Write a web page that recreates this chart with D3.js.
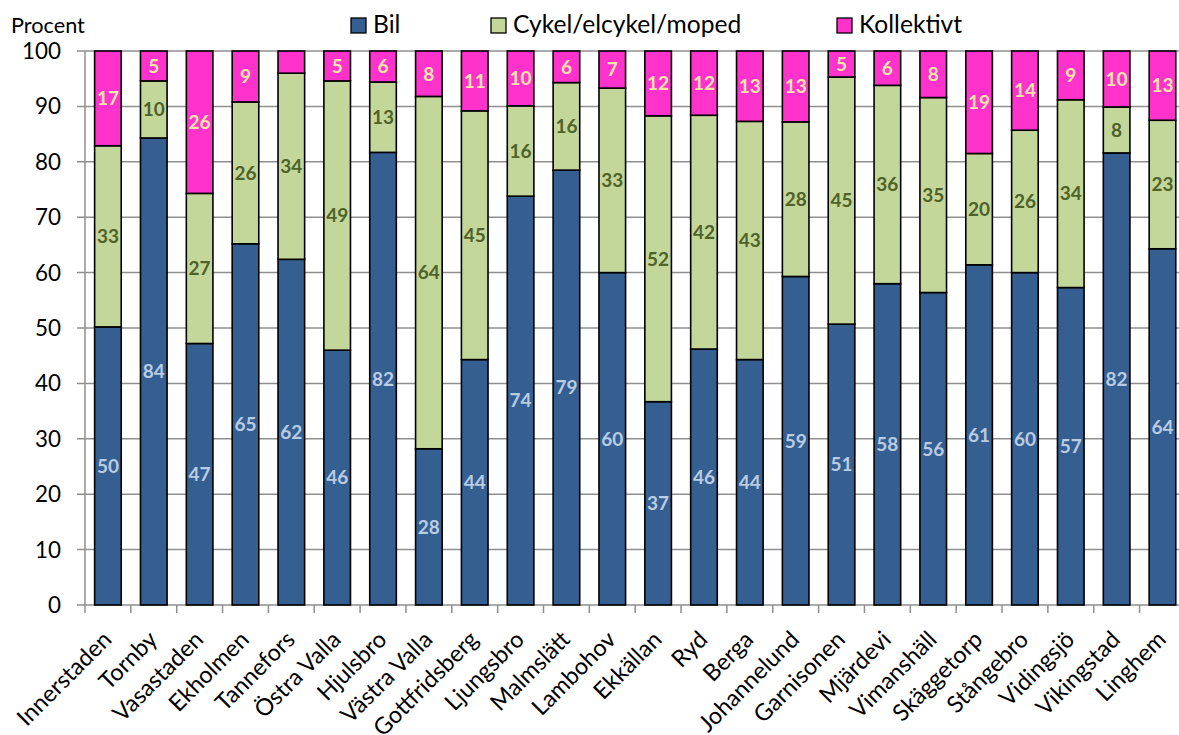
<!DOCTYPE html>
<html><head><meta charset="utf-8">
<script src="https://cdn.jsdelivr.net/npm/d3@7"></script>
<style>html,body{margin:0;padding:0;background:#fff;}svg{display:block;font-family:Lato,"Open Sans",sans-serif;}</style>
</head><body>
<svg id="c" width="1179" height="735"></svg>
<script>
const categories = ["Innerstaden","Tornby","Vasastaden","Ekholmen","Tannefors","Östra Valla","Hjulsbro","Västra Valla","Gottfridsberg","Ljungsbro","Malmslätt","Lambohov","Ekkällan","Ryd","Berga","Johannelund","Garnisonen","Mjärdevi","Vimanshäll","Skäggetorp","Stångebro","Vidingsjö","Vikingstad","Linghem"];
const bil =        [50.2,84.3,47.2,65.2,62.4,46.0,81.7,28.2,44.3,73.8,78.5,60.0,36.7,46.2,44.3,59.3,50.7,58.0,56.4,61.4,60.0,57.3,81.6,64.3];
const cykel =      [32.7,10.3,27.1,25.6,33.6,48.6,12.7,63.6,44.9,16.3,15.8,33.3,51.6,42.2,43.0,27.9,44.6,35.8,35.2,20.1,25.7,33.9, 8.3,23.2];
const kollektivt = [17.1, 5.4,25.7, 9.2, 4.0, 5.4, 5.6, 8.2,10.8, 9.9, 5.7, 6.7,11.7,11.6,12.7,12.8, 4.7, 6.2, 8.4,18.5,14.3, 8.8,10.1,12.5];
const seriesNames = ["Bil","Cykel/elcykel/moped","Kollektivt"];
const yTicks = [0,10,20,30,40,50,60,70,80,90,100];

const fills = ["#365F91","#C4D79B","#FF33CC"];
const labelColors = ["#B8CCE4","#4F6228","#FCE4A8"];

const svg = d3.select("#c");
const x0 = 85, yTop = 51, yBot = 605;
const step = 45.85;
const x = d3.scaleBand().domain(categories).range([x0, x0 + step*categories.length]).paddingInner(0.42).paddingOuter(0.21);
const y = d3.scaleLinear().domain([0,100]).range([yBot, yTop]);

// gridlines
svg.append("g").selectAll("line").data(yTicks).join("line")
  .attr("x1", x0-8).attr("x2", 1185)
  .attr("y1", d=>y(d)).attr("y2", d=>y(d))
  .attr("stroke", "#8f8f8f").attr("stroke-width", 1.5);

// y axis line
svg.append("line").attr("x1",x0).attr("x2",x0).attr("y1",yTop).attr("y2",yBot)
  .attr("stroke","#8f8f8f").attr("stroke-width",1.5);

// y tick labels
svg.append("g").selectAll("text").data(yTicks).join("text")
  .attr("x", 61).attr("y", d=>y(d)).attr("dy","0.36em")
  .attr("text-anchor","end").attr("font-size",22.4).attr("fill","#000")
  .text(d=>d);

// x ticks
svg.append("g").selectAll("line").data(d3.range(categories.length+1)).join("line")
  .attr("x1", i=>x0+i*step).attr("x2", i=>x0+i*step)
  .attr("y1", yBot).attr("y2", yBot+8)
  .attr("stroke","#8f8f8f").attr("stroke-width",1.5);

// stacked data
const rows = categories.map((c,i)=>({cat:c, Bil:bil[i], "Cykel/elcykel/moped":cykel[i], Kollektivt:kollektivt[i]}));
const stack = d3.stack().keys(seriesNames)(rows);

const g = svg.append("g");
stack.forEach((layer, si) => {
  g.append("g").selectAll("rect").data(layer).join("rect")
    .attr("x", d=>x(d.data.cat)).attr("width", x.bandwidth())
    .attr("y", d=>y(d[1])).attr("height", d=>y(d[0])-y(d[1]))
    .attr("fill", fills[si]).attr("stroke","#000").attr("stroke-width",1.6);
});
stack.forEach((layer, si) => {
  g.append("g").selectAll("text").data(layer.filter(d=>d[1]-d[0]>=4.5)).join("text")
    .attr("x", d=>x(d.data.cat)+x.bandwidth()/2)
    .attr("y", d=>(y(d[0])+y(d[1]))/2).attr("dy","0.36em")
    .attr("text-anchor","middle").attr("font-size",19).attr("font-weight","bold")
    .attr("fill", labelColors[si])
    .text(d=>Math.round(d[1]-d[0]));
});

// x labels
svg.append("g").selectAll("text").data(categories).join("text")
  .attr("transform", d=>`translate(${x(d)+x.bandwidth()/2+5},${yBot+36}) rotate(-45)`)
  .attr("text-anchor","end").attr("font-size",23.4).attr("fill","#000")
  .text(d=>d);

// Procent
svg.append("text").attr("x",11).attr("y",33).attr("font-size",21.7).attr("fill","#000").text("Procent");

// legend
const legX = [351, 491, 837];
const leg = svg.append("g");
seriesNames.forEach((n,i)=>{
  leg.append("rect").attr("x",legX[i]).attr("y",18).attr("width",15).attr("height",15)
    .attr("fill",fills[i]).attr("stroke","#000").attr("stroke-width",1.3);
  leg.append("text").attr("x",legX[i]+22).attr("y",33)
    .attr("font-size",24.6).attr("fill","#000").text(n);
});
</script>
</body></html>
